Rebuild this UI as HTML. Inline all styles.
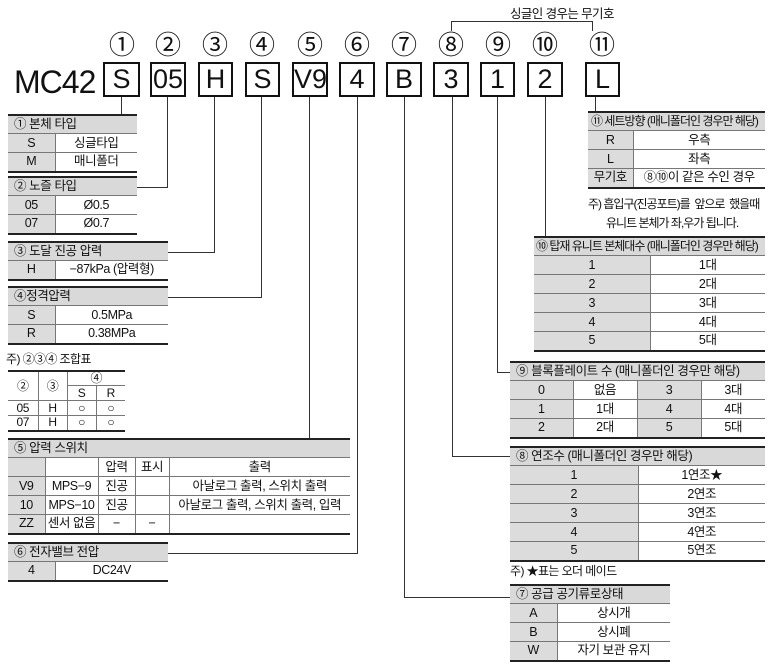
<!DOCTYPE html>
<html><head><meta charset="utf-8">
<style>
*{margin:0;padding:0;box-sizing:border-box}
body{width:773px;height:671px;background:#fff;position:relative;overflow:hidden;font-family:"Liberation Sans","Noto Sans CJK KR",sans-serif;color:#111}
.a{position:absolute}
.box{position:absolute;top:62px;height:35px;border:2px solid #111;font-size:27px;text-align:center;line-height:31px}
.cn{position:absolute;top:30px;font-size:26px;width:40px;text-align:center;line-height:30px}
.l{position:absolute;background:#333}
table{position:absolute;border-collapse:collapse;font-size:12.5px;border-top:2px solid #222;border-bottom:2px solid #222;table-layout:fixed;letter-spacing:-0.4px}
td{border-top:1px solid #777;border-left:1px solid #777;text-align:center;padding:0;line-height:17px;white-space:nowrap;overflow:hidden}
td:first-child{border-left:none}
tr:first-child td{border-top:none}
td.h{background:#d9d9d9;text-align:left;padding-left:6px}
td.hs{letter-spacing:-1px;font-size:12px}
.g{background:#dcdcdc}
.n{font-size:12px;position:absolute;white-space:nowrap;letter-spacing:-0.6px}
table.c td{line-height:13px;font-size:12px}
</style></head><body>

<div class="a" style="left:14px;top:64px;font-size:32px;letter-spacing:-1px">MC42</div>

<div class="cn" style="left:102px">①</div><div class="box" style="left:103px;width:37px">S</div>
<div class="cn" style="left:148px">②</div><div class="box" style="left:150px;width:36px">05</div>
<div class="cn" style="left:195px">③</div><div class="box" style="left:198px;width:35px">H</div>
<div class="cn" style="left:242px">④</div><div class="box" style="left:245px;width:35px">S</div>
<div class="cn" style="left:290px">⑤</div><div class="box" style="left:292px;width:36px">V9</div>
<div class="cn" style="left:337px">⑥</div><div class="box" style="left:339px;width:36px">4</div>
<div class="cn" style="left:384px">⑦</div><div class="box" style="left:386px;width:36px">B</div>
<div class="cn" style="left:431px">⑧</div><div class="box" style="left:433px;width:36px">3</div>
<div class="cn" style="left:478px">⑨</div><div class="box" style="left:480px;width:35px">1</div>
<div class="cn" style="left:525px">⑩</div><div class="box" style="left:527px;width:36px">2</div>
<div class="cn" style="left:582px">⑪</div><div class="box" style="left:585px;width:35px">L</div>

<div class="n" style="left:510px;top:3px;font-size:12.5px">싱글인 경우는 무기호</div>
<div class="l" style="left:451px;top:21px;width:142px;height:1px"></div>
<div class="l" style="left:451px;top:21px;width:1px;height:10px"></div>
<div class="l" style="left:592px;top:21px;width:1px;height:10px"></div>

<!-- connectors -->
<div class="l" style="left:121px;top:97px;width:1px;height:18px"></div>
<div class="l" style="left:167px;top:97px;width:1px;height:91px"></div><div class="l" style="left:137px;top:187px;width:31px;height:1px"></div>
<div class="l" style="left:214px;top:97px;width:1px;height:156px"></div><div class="l" style="left:168px;top:252px;width:47px;height:1px"></div>
<div class="l" style="left:261px;top:97px;width:1px;height:201px"></div><div class="l" style="left:168px;top:297px;width:94px;height:1px"></div>
<div class="l" style="left:309px;top:97px;width:1px;height:342px"></div>
<div class="l" style="left:357px;top:97px;width:1px;height:457px"></div><div class="l" style="left:168px;top:553px;width:190px;height:1px"></div>
<div class="l" style="left:404px;top:97px;width:1px;height:501px"></div><div class="l" style="left:404px;top:597px;width:106px;height:1px"></div>
<div class="l" style="left:452px;top:97px;width:1px;height:360px"></div><div class="l" style="left:452px;top:456px;width:58px;height:1px"></div>
<div class="l" style="left:497px;top:97px;width:1px;height:276px"></div><div class="l" style="left:497px;top:372px;width:13px;height:1px"></div>
<div class="l" style="left:545px;top:97px;width:1px;height:141px"></div>
<div class="l" style="left:595px;top:97px;width:1px;height:16px"></div>

<!-- left tables -->
<table style="left:8px;top:114px;width:129px"><col style="width:47px"><col>
<tr style="height:18px"><td class="h" colspan="2">① 본체 타입</td></tr>
<tr style="height:19px"><td class="g">S</td><td>싱글타입</td></tr>
<tr style="height:19px"><td class="g">M</td><td>매니폴더</td></tr></table>

<table style="left:8px;top:176px;width:129px"><col style="width:47px"><col>
<tr style="height:18px"><td class="h" colspan="2">② 노즐 타입</td></tr>
<tr style="height:19px"><td class="g">05</td><td>Ø0.5</td></tr>
<tr style="height:19px"><td class="g">07</td><td>Ø0.7</td></tr></table>

<table style="left:8px;top:241px;width:160px"><col style="width:47px"><col>
<tr style="height:18px"><td class="h" colspan="2">③ 도달 진공 압력</td></tr>
<tr style="height:19px"><td class="g">H</td><td>−87kPa (압력형)</td></tr></table>

<table style="left:8px;top:286px;width:160px"><col style="width:47px"><col>
<tr style="height:18px"><td class="h" colspan="2">④정격압력</td></tr>
<tr style="height:19px"><td class="g">S</td><td>0.5MPa</td></tr>
<tr style="height:19px"><td class="g">R</td><td>0.38MPa</td></tr></table>

<div class="n" style="left:6px;top:350px">주) ②③④ 조합표</div>
<table class="c" style="left:8px;top:370px;width:117px"><col style="width:30px"><col style="width:29px"><col style="width:29px"><col>
<tr style="height:14px"><td rowspan="2">②</td><td rowspan="2">③</td><td colspan="2" style="border-left:1px solid #777">④</td></tr>
<tr style="height:15px"><td style="border-top:1px solid #777;border-left:1px solid #777">S</td><td style="border-top:1px solid #777">R</td></tr>
<tr style="height:15px"><td>05</td><td>H</td><td>○</td><td>○</td></tr>
<tr style="height:15px"><td>07</td><td>H</td><td>○</td><td>○</td></tr></table>

<table style="left:8px;top:438px;width:342px"><col style="width:37px"><col style="width:53px"><col style="width:37px"><col style="width:34px"><col>
<tr style="height:18px"><td class="h" colspan="5">⑤ 압력 스위치</td></tr>
<tr style="height:19px"><td class="g"></td><td></td><td>압력</td><td>표시</td><td>출력</td></tr>
<tr style="height:19px"><td class="g">V9</td><td>MPS−9</td><td>진공</td><td></td><td>아날로그 출력, 스위치 출력</td></tr>
<tr style="height:19px"><td class="g">10</td><td>MPS−10</td><td>진공</td><td></td><td>아날로그 출력, 스위치 출력, 입력</td></tr>
<tr style="height:19px"><td class="g">ZZ</td><td>센서 없음</td><td>−</td><td>−</td><td></td></tr></table>

<table style="left:8px;top:542px;width:160px"><col style="width:47px"><col>
<tr style="height:18px"><td class="h" colspan="2">⑥ 전자밸브 전압</td></tr>
<tr style="height:19px"><td class="g">4</td><td>DC24V</td></tr></table>

<!-- right tables -->
<table style="left:588px;top:111px;width:177px"><col style="width:45px"><col>
<tr style="height:18px"><td class="h hs" colspan="2" style="padding-left:3px">⑪ 세트방향 (매니폴더인 경우만 해당)</td></tr>
<tr style="height:19px"><td class="g">R</td><td>우측</td></tr>
<tr style="height:19px"><td class="g">L</td><td>좌측</td></tr>
<tr style="height:19px"><td class="g">무기호</td><td>⑧⑩이 같은 수인 경우</td></tr></table>
<div class="n" style="left:588px;top:195px;letter-spacing:-1px">주) 흡입구(진공포트)를 &nbsp;앞으로 &nbsp;했을때</div>
<div class="n" style="left:606px;top:214px;letter-spacing:-1px">유니트 본체가 좌,우가 됩니다.</div>

<table style="left:534px;top:236px;width:231px"><col style="width:116px"><col>
<tr style="height:18px"><td class="h hs" colspan="2" style="padding-left:2px">⑩ 탑재 유니트 본체대수 (매니폴더인 경우만 해당)</td></tr>
<tr style="height:19px"><td class="g">1</td><td>1대</td></tr>
<tr style="height:19px"><td class="g">2</td><td>2대</td></tr>
<tr style="height:19px"><td class="g">3</td><td>3대</td></tr>
<tr style="height:19px"><td class="g">4</td><td>4대</td></tr>
<tr style="height:19px"><td class="g">5</td><td>5대</td></tr></table>

<table style="left:510px;top:361px;width:255px"><col style="width:63px"><col style="width:64px"><col style="width:64px"><col>
<tr style="height:18px"><td class="h" colspan="4">⑨ 블록플레이트 수 (매니폴더인 경우만 해당)</td></tr>
<tr style="height:19px"><td class="g">0</td><td>없음</td><td class="g">3</td><td>3대</td></tr>
<tr style="height:19px"><td class="g">1</td><td>1대</td><td class="g">4</td><td>4대</td></tr>
<tr style="height:19px"><td class="g">2</td><td>2대</td><td class="g">5</td><td>5대</td></tr></table>

<table style="left:510px;top:446px;width:255px"><col style="width:128px"><col>
<tr style="height:18px"><td class="h" colspan="2">⑧ 연조수 (매니폴더인 경우만 해당)</td></tr>
<tr style="height:19px"><td class="g">1</td><td>1연조★</td></tr>
<tr style="height:19px"><td class="g">2</td><td>2연조</td></tr>
<tr style="height:19px"><td class="g">3</td><td>3연조</td></tr>
<tr style="height:19px"><td class="g">4</td><td>4연조</td></tr>
<tr style="height:19px"><td class="g">5</td><td>5연조</td></tr></table>
<div class="n" style="left:510px;top:562px">주) ★표는 오더 메이드</div>

<table style="left:510px;top:584px;width:160px"><col style="width:47px"><col>
<tr style="height:18px"><td class="h" colspan="2">⑦ 공급 공기류로상태</td></tr>
<tr style="height:19px"><td class="g">A</td><td>상시개</td></tr>
<tr style="height:19px"><td class="g">B</td><td>상시폐</td></tr>
<tr style="height:19px"><td class="g">W</td><td>자기 보관 유지</td></tr></table>

</body></html>
